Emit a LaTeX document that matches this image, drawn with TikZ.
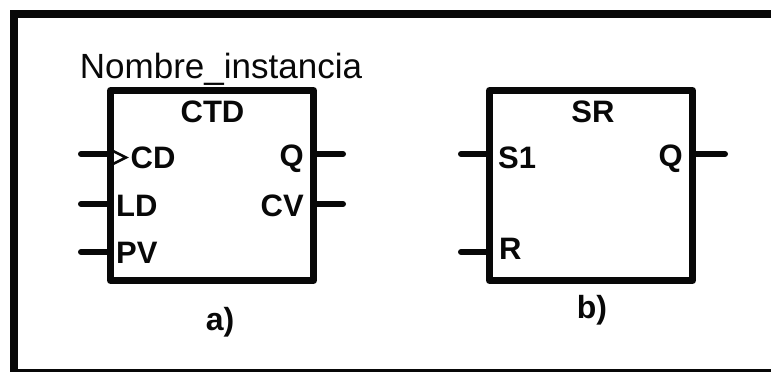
\documentclass[tikz,border=0pt]{standalone}
\usepackage{fontspec}
\setmainfont{Liberation Sans}
\usetikzlibrary{positioning}
\definecolor{fbblack}{RGB}{8,8,8}
\tikzstyle{fblock} = [draw=fbblack,line width=7pt,line join=round,minimum width=203pt,minimum height=190pt,inner sep=0pt]
\tikzstyle{pin} = [draw=fbblack,line width=6pt,line cap=round]
\tikzstyle{pinlabel} = [font=\fontsize{31}{31}\selectfont\bfseries,text=fbblack,inner sep=0pt,text height=22pt,text depth=0pt]
\tikzstyle{caption} = [font=\fontsize{32}{32}\selectfont\bfseries,text=fbblack,inner sep=0pt]

\begin{document}
\begin{tikzpicture}[x=1pt,y=1pt]
\useasboundingbox (0,0) rectangle (771,372);
% Frame
\coordinate (ftr) at (771,357.5);
\coordinate (ftl) at (14,357.5);
\coordinate (fbl) at (14,0);
\coordinate (fbr) at (771,1.5);
\draw[draw=fbblack,line width=8pt] (ftr) -- (ftl) -- (fbl);
\draw[draw=fbblack,line width=3pt] (fbr) -- (fbr -| fbl);

% Blocks
\node[fblock] (ctd) at (212,186.5) {};
\node[fblock] (sr) at (591,186.5) {};

% Block titles
\node[font=\fontsize{35}{35}\selectfont,text=fbblack,inner sep=0pt,text height=24pt,text depth=0pt] (name) at (221,305) {Nombre\_instancia};
\node[pinlabel] (ctdname) at (212.5,260) {CTD};
\node[pinlabel] (srname) at (593,260) {SR};

% Left side of CTD
\node[pinlabel,anchor=west] (cd) at (130.5,214) {CD};
\node[pinlabel,anchor=west] (ld) at (116,166) {LD};
\node[pinlabel,anchor=west] (pv) at (116,119) {PV};
\node[pinlabel,anchor=east] (q) at (304,216) {Q};
\node[pinlabel,anchor=east] (cv) at (304,166) {CV};
\coordinate (cdin) at (81,218);
\coordinate (ldin) at (81,168);
\coordinate (pvin) at (81,120);
\coordinate (qout) at (343,218);
\coordinate (cvout) at (343,168);
\draw[pin] (cdin) -- (cdin -| ctd.west);
\draw[pin] (ldin) -- (ldin -| ctd.west);
\draw[pin] (pvin) -- (pvin -| ctd.west);
\draw[pin] (qout) -- (qout -| ctd.east);
\draw[pin] (cvout) -- (cvout -| ctd.east);
% Clock mark
\coordinate (clka) at (113,221);
\coordinate (clkb) at (126,214.5);
\coordinate (clkc) at (113,208);
\draw[draw=fbblack,line width=2.5pt] (clka) -- (clkb) -- (clkc);

% SR
\node[pinlabel,anchor=west] (s1) at (498,214) {S1};
\node[pinlabel,anchor=west] (r) at (499,123) {R};
\node[pinlabel,anchor=east] (srq) at (683,216) {Q};
\coordinate (s1in) at (461,218);
\coordinate (rin) at (461,120);
\coordinate (srqout) at (725,218);
\draw[pin] (s1in) -- (s1in -| sr.west);
\draw[pin] (rin) -- (rin -| sr.west);
\draw[pin] (srqout) -- (srqout -| sr.east);

% Labels
\node[caption] (a) at (220,50) {a)};
\node[caption] (b) at (592,62) {b)};
\end{tikzpicture}
\end{document}
